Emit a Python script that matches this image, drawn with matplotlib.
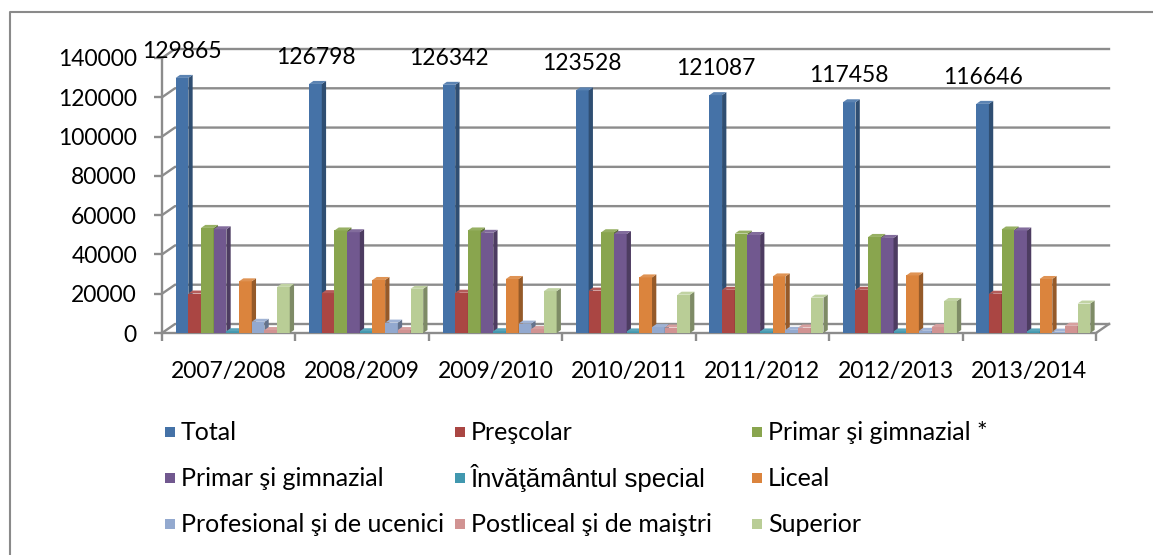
import matplotlib

matplotlib.use("Agg")
import matplotlib.pyplot as plt
from matplotlib.lines import Line2D
from matplotlib.patches import Polygon, Rectangle

# ---- data ----
years = ["2007/2008", "2008/2009", "2009/2010", "2010/2011",
         "2011/2012", "2012/2013", "2013/2014"]

total = [129865, 126798, 126342, 123528, 121087, 117458, 116646]
prescolar = [20100, 20300, 20500, 21600, 22000, 22000, 20000]
primar_gimn_star = [53500, 52200, 52200, 51300, 50600, 48900, 52700]
primar_gimn = [52800, 51300, 51000, 50400, 49900, 48400, 52200]
special = [900, 900, 900, 800, 800, 800, 800]
liceal = [26300, 27000, 27500, 28300, 28800, 29300, 27500]
profesional = [5700, 5300, 4800, 3000, 1600, 1100, 700]
postliceal = [1500, 1500, 2000, 2800, 2800, 3000, 3700]
superior = [23500, 22500, 21300, 19500, 18000, 16300, 15000]

series_names = ["Total", "Preşcolar", "Primar şi gimnazial *",
                "Primar şi gimnazial", "Învăţământul special", "Liceal",
                "Profesional şi de ucenici", "Postliceal şi de maiştri",
                "Superior"]
series_values = [total, prescolar, primar_gimn_star, primar_gimn, special,
                 liceal, profesional, postliceal, superior]
series_colors = ["#4572A7", "#AA4643", "#89A54E", "#71588F", "#4198AF",
                 "#DB843D", "#93A9CF", "#D19392", "#B9CD96"]

y_ticks = [0, 20000, 40000, 60000, 80000, 100000, 120000, 140000]

# ---- layout (pixels, origin top-left) ----
FIG_W, FIG_H, DPI = 1153, 555, 100
X0, X1 = 162, 1096          # front plane of the plot
Y0, Y1 = 333, 58            # 0 and 140000 on the front axis
WALL_DX, WALL_DY = 13, 9    # depth of the back wall
BAR_DX, BAR_DY = 4.3, 3.0   # depth of a bar
BAR_W = 0.095
GROUP_SHIFT = 0.03
GRID = "#8c8c8c"
FONT = "Lato"
FS = 16.5
LEG_FS = 18

plt.rcParams["font.family"] = [FONT, "DejaVu Sans"]

fig = plt.figure(figsize=(FIG_W / DPI, FIG_H / DPI), dpi=DPI)
ax = fig.add_axes([X0 / FIG_W, 1 - Y0 / FIG_H,
                   (X1 - X0) / FIG_W, (Y0 - Y1) / FIG_H])
n = len(years)
ax.set_xlim(-0.5, n - 0.5)
ax.set_ylim(y_ticks[0], y_ticks[-1])

px_x = n / (X1 - X0)
px_y = (y_ticks[-1] - y_ticks[0]) / (Y0 - Y1)


def shade(color, f):
    r, g, b = matplotlib.colors.to_rgb(color)
    if f < 1:
        return (r * f, g * f, b * f)
    return (r + (1 - r) * (f - 1), g + (1 - g) * (f - 1), b + (1 - b) * (f - 1))


# back wall grid + depth lines
wdx, wdy = WALL_DX * px_x, WALL_DY * px_y
for v in y_ticks:
    ax.add_line(Line2D([-0.5, -0.5 + wdx, n - 0.5 + wdx], [v, v + wdy, v + wdy],
                       color=GRID, lw=1.7, clip_on=False, zorder=1))
ax.add_line(Line2D([n - 0.5, n - 0.5 + wdx], [0, wdy],
                   color=GRID, lw=1.7, clip_on=False, zorder=1))

# 3D-looking bars
bdx, bdy = BAR_DX * px_x, BAR_DY * px_y
for s, (vals, col) in enumerate(zip(series_values, series_colors)):
    z = 3 + s * 0.1
    centers = [i + GROUP_SHIFT + (s - 4) * BAR_W for i in range(n)]
    ax.bar(centers, vals, width=BAR_W, color=col, zorder=z, lw=0)
    for c, v in zip(centers, vals):
        xl, xr = c - BAR_W / 2, c + BAR_W / 2
        ax.add_patch(Polygon([(xr, 0), (xr + bdx, bdy), (xr + bdx, v + bdy), (xr, v)],
                             closed=True, fc=shade(col, 0.68), lw=0, zorder=z,
                             clip_on=False))
        ax.add_patch(Polygon([(xl, v), (xl + bdx, v + bdy), (xr + bdx, v + bdy), (xr, v)],
                             closed=True, fc=shade(col, 1.12), lw=0, zorder=z,
                             clip_on=False))

# data labels on Total
for i, v in enumerate(total):
    c = i + GROUP_SHIFT - 4 * BAR_W
    ax.annotate(f"{v}", (c, v), xytext=(0, 19), textcoords="offset points",
                ha="center", va="center", fontsize=FS, color="black",
                annotation_clip=False, zorder=10)

# axes
for side in ("top", "right"):
    ax.spines[side].set_visible(False)
for side in ("left", "bottom"):
    ax.spines[side].set_color(GRID)
    ax.spines[side].set_linewidth(1.7)
ax.set_yticks(y_ticks)
ax.set_yticklabels([str(v) for v in y_ticks])
ax.tick_params(axis="y", length=6, width=1.7, color=GRID, pad=12, labelsize=FS)
ax.set_xticks([i - 0.5 for i in range(n + 1)])
ax.set_xticklabels([])
ax.tick_params(axis="x", which="major", length=6, width=1.7, color=GRID)
ax.set_xticks(range(n), minor=True)
ax.set_xticklabels(years, minor=True)
ax.tick_params(axis="x", which="minor", length=0, pad=20, labelsize=FS)
ax.set_facecolor("none")

# legend (Excel-style grid, row-major)
col_x = [165, 455, 752]
row_y = [432, 478, 524]
for k, (name, col) in enumerate(zip(series_names, series_colors)):
    r, cidx = divmod(k, 3)
    x, y = col_x[cidx], row_y[r]
    fig.add_artist(Rectangle((x / FIG_W, 1 - (y + 5) / FIG_H), 10 / FIG_W, 10 / FIG_H,
                             transform=fig.transFigure, fc=col, lw=0))
    fam = ["Liberation Sans", "DejaVu Sans"] if k == 4 else [FONT, "DejaVu Sans"]
    fig.text((x + 16) / FIG_W, 1 - y / FIG_H, name, ha="left", va="center",
             fontsize=18.5 if k == 4 else LEG_FS, family=fam)

# outer chart border (top and left visible)
fig.add_artist(Line2D([10 / FIG_W, 10 / FIG_W, 1.0], [0.0, 1 - 12 / FIG_H, 1 - 12 / FIG_H],
                      transform=fig.transFigure, color="#8a8a8a", lw=1.5))

fig.savefig("out.png", dpi=DPI)
